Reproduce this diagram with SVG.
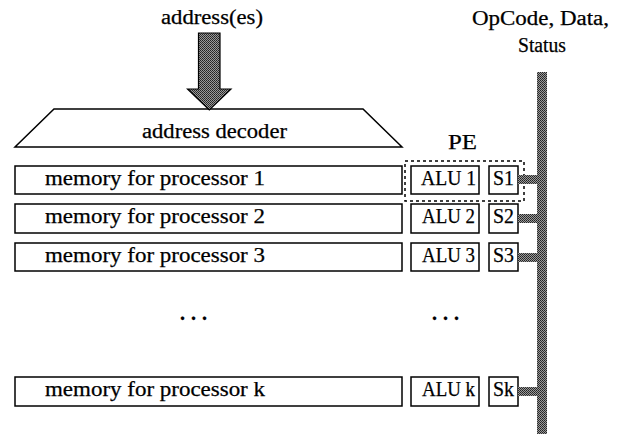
<svg xmlns="http://www.w3.org/2000/svg" width="623" height="434" viewBox="0 0 623 434">
<style>
text{font-family:"Liberation Serif","Times New Roman","DejaVu Serif",serif;font-size:20px;fill:#000;stroke:#000;stroke-width:0.25}
.box{fill:#fff;stroke:#000;stroke-width:1.5}
.pe{fill:none;stroke:#000;stroke-width:1.5;stroke-dasharray:3 3}
.bus{fill:url(#dither);stroke:none}
</style>
<defs>
<pattern id="dither" width="2" height="2" patternUnits="userSpaceOnUse">
<rect width="2" height="2" fill="#9a9a9a"/>
<rect width="1" height="1" fill="#222"/>
<rect x="1" y="1" width="1" height="1" fill="#333"/>
</pattern>
</defs>

<g id="address-label"><text x="161" y="24" textLength="102" lengthAdjust="spacingAndGlyphs">address(es)</text></g>
<g id="bus-label">
<text x="472" y="25" textLength="137" lengthAdjust="spacingAndGlyphs">OpCode, Data,</text>
<text x="518" y="52" textLength="48" lengthAdjust="spacingAndGlyphs">Status</text>
</g>

<g id="decoder">
<polygon class="box" points="54,109 363,109 402,147 15,147"/>
<text x="142" y="138" textLength="145" lengthAdjust="spacingAndGlyphs">address decoder</text>
</g>

<g id="mem1"><rect class="box" x="15" y="166" width="387" height="28"/><text x="45" y="185" textLength="220" lengthAdjust="spacingAndGlyphs">memory for processor 1</text></g>
<g id="mem2"><rect class="box" x="15" y="204" width="387" height="29"/><text x="45" y="223" textLength="220" lengthAdjust="spacingAndGlyphs">memory for processor 2</text></g>
<g id="mem3"><rect class="box" x="15" y="243" width="387" height="28"/><text x="45" y="262" textLength="220" lengthAdjust="spacingAndGlyphs">memory for processor 3</text></g>
<g id="memk"><rect class="box" x="15" y="377" width="387" height="29"/><text x="45" y="396" textLength="220" lengthAdjust="spacingAndGlyphs">memory for processor k</text></g>

<g id="alu1"><rect class="box" x="411" y="166" width="68" height="28"/><text x="421" y="185" textLength="55" lengthAdjust="spacingAndGlyphs">ALU 1</text></g>
<g id="alu2"><rect class="box" x="411" y="204" width="68" height="29"/><text x="422" y="223" textLength="53" lengthAdjust="spacingAndGlyphs">ALU 2</text></g>
<g id="alu3"><rect class="box" x="411" y="243" width="68" height="28"/><text x="422" y="262" textLength="53" lengthAdjust="spacingAndGlyphs">ALU 3</text></g>
<g id="aluk"><rect class="box" x="411" y="377" width="68" height="29"/><text x="422" y="396" textLength="53" lengthAdjust="spacingAndGlyphs">ALU k</text></g>

<g id="s1"><rect class="box" x="489" y="166" width="29" height="28"/><text x="493" y="185" textLength="21" lengthAdjust="spacingAndGlyphs">S1</text></g>
<g id="s2"><rect class="box" x="489" y="204" width="29" height="29"/><text x="493" y="223" textLength="21" lengthAdjust="spacingAndGlyphs">S2</text></g>
<g id="s3"><rect class="box" x="489" y="243" width="29" height="28"/><text x="493" y="262" textLength="21" lengthAdjust="spacingAndGlyphs">S3</text></g>
<g id="sk"><rect class="box" x="489" y="377" width="29" height="29"/><text x="493" y="396" textLength="21" lengthAdjust="spacingAndGlyphs">Sk</text></g>

<g id="pe">
<rect class="pe" x="405" y="161" width="119" height="40"/>
<text x="448" y="149" textLength="29" lengthAdjust="spacingAndGlyphs">PE</text>
</g>

<g id="ellipses">
<text x="180" y="320" textLength="27" lengthAdjust="spacing" style="font-weight:bold">...</text>
<text x="432" y="320" textLength="27" lengthAdjust="spacing" style="font-weight:bold">...</text>
</g>

<g id="connectors">
<polygon points="198.5,33 220,33 220,89 231,89 209.3,110 187.5,89 198.5,89" fill="url(#dither)" stroke="#000" stroke-width="1.2"/>
<rect class="bus" x="537" y="72" width="10" height="362"/>
<rect class="bus" x="518" y="175" width="20" height="9"/>
<rect class="bus" x="518" y="214" width="20" height="9"/>
<rect class="bus" x="518" y="253" width="20" height="9"/>
<rect class="bus" x="518" y="387" width="20" height="9"/>
</g>
</svg>
